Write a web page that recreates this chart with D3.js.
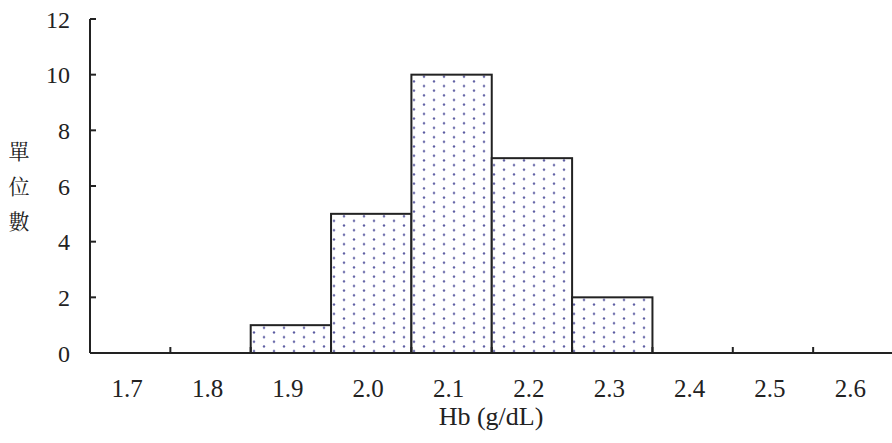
<!DOCTYPE html>
<html lang="zh-Hant">
<head>
    <meta charset="UTF-8">
    <script src="https://d3js.org/d3.v7.min.js"></script>
    <title>Hb histogram</title>
    <style>
        body { margin: 0; background: #fff; }
    </style>
</head>
<body>
<svg class="chart"></svg>

<script>
    let bins = ['1.7', '1.8', '1.9', '2.0', '2.1', '2.2', '2.3', '2.4', '2.5', '2.6'];
    let counts = [0, 0, 1, 5, 10, 7, 2, 0, 0, 0];
    let y_ticks = [0, 2, 4, 6, 8, 10, 12];
    let y_title = ['單', '位', '數'];
    let x_title = 'Hb (g/dL)';

    let chart_width = 892, chart_height = 443;
    let m_left = 90, m_right = 893.5, m_top = 19, m_bottom = 353;
    let serif = '"Liberation Serif", "Times New Roman", serif';

    let svg = d3.select('.chart').attr('width', chart_width).attr('height', chart_height);

    // dotted fill
    let pat = svg.append('defs').append('pattern')
        .attr('id', 'dots')
        .attr('patternUnits', 'userSpaceOnUse')
        .attr('width', 20).attr('height', 9.3);
    pat.append('rect').attr('width', 20).attr('height', 9.3).attr('fill', '#fff');
    pat.append('circle').attr('cx', 4).attr('cy', 2.3).attr('r', 1.2).attr('fill', '#5a5aa0');
    pat.append('circle').attr('cx', 14).attr('cy', 6.95).attr('r', 1.2).attr('fill', '#5a5aa0');

    var x_range = d3.scaleBand()
        .domain(bins)
        .range([m_left, m_right])
        .padding(0);

    var y_range = d3.scaleLinear()
        .domain([0, 12])
        .range([m_bottom, m_top]);

    svg.selectAll('rect.bar')
        .data(counts.map(function (c, i) { return {bin: bins[i], count: c}; }).filter(function (d) { return d.count > 0; }))
        .enter()
        .append('rect')
        .attr('class', 'bar')
        .attr('x', function (d) { return x_range(d.bin); })
        .attr('width', x_range.bandwidth())
        .attr('y', function (d) { return y_range(d.count); })
        .attr('height', function (d) { return m_bottom - y_range(d.count); })
        .attr('fill', 'url(#dots)')
        .style('stroke', '#222').style('stroke-width', 2);

    // y axis
    svg.append('line')
        .attr('x1', m_left).attr('x2', m_left)
        .attr('y1', m_top).attr('y2', m_bottom)
        .style('stroke', '#222').style('stroke-width', 2);
    svg.selectAll('line.ytick')
        .data(y_ticks)
        .enter()
        .append('line')
        .attr('class', 'ytick')
        .attr('x1', m_left).attr('x2', m_left + 6)
        .attr('y1', function (d) { return y_range(d); })
        .attr('y2', function (d) { return y_range(d); })
        .style('stroke', '#222').style('stroke-width', 2);
    svg.selectAll('text.ylab')
        .data(y_ticks)
        .enter()
        .append('text')
        .attr('class', 'ylab')
        .attr('x', 70)
        .attr('y', function (d) { return y_range(d) + 8.5; })
        .attr('text-anchor', 'end')
        .attr('font-family', serif)
        .attr('font-size', 24)
        .attr('fill', '#222')
        .text(function (d) { return d; });

    // x axis
    svg.append('line')
        .attr('x1', m_left).attr('x2', chart_width)
        .attr('y1', m_bottom).attr('y2', m_bottom)
        .style('stroke', '#222').style('stroke-width', 2);
    svg.selectAll('line.xtick')
        .data(bins.slice(1))
        .enter()
        .append('line')
        .attr('class', 'xtick')
        .attr('x1', function (d) { return x_range(d); })
        .attr('x2', function (d) { return x_range(d); })
        .attr('y1', m_bottom).attr('y2', m_bottom - 6)
        .style('stroke', '#222').style('stroke-width', 2);
    svg.selectAll('text.xlab')
        .data(bins)
        .enter()
        .append('text')
        .attr('class', 'xlab')
        .attr('x', function (d) { return x_range(d) + x_range.bandwidth() / 2 - 3; })
        .attr('y', 397)
        .attr('text-anchor', 'middle')
        .attr('font-family', serif)
        .attr('font-size', 25)
        .attr('fill', '#222')
        .text(function (d) { return d; });

    svg.append('text')
        .attr('x', (m_left + chart_width) / 2).attr('y', 425)
        .attr('text-anchor', 'middle')
        .attr('font-family', serif)
        .attr('font-size', 26)
        .attr('fill', '#222')
        .text(x_title);

    svg.selectAll('text.ytitle')
        .data(y_title)
        .enter()
        .append('text')
        .attr('class', 'ytitle')
        .attr('x', 19)
        .attr('y', function (d, i) { return 159 + i * 35; })
        .attr('text-anchor', 'middle')
        .attr('font-family', '"Noto Serif CJK TC", "Noto Sans CJK TC", serif')
        .attr('font-size', 21)
        .attr('fill', '#222')
        .text(function (d) { return d; });
</script>
</body>
</html>
